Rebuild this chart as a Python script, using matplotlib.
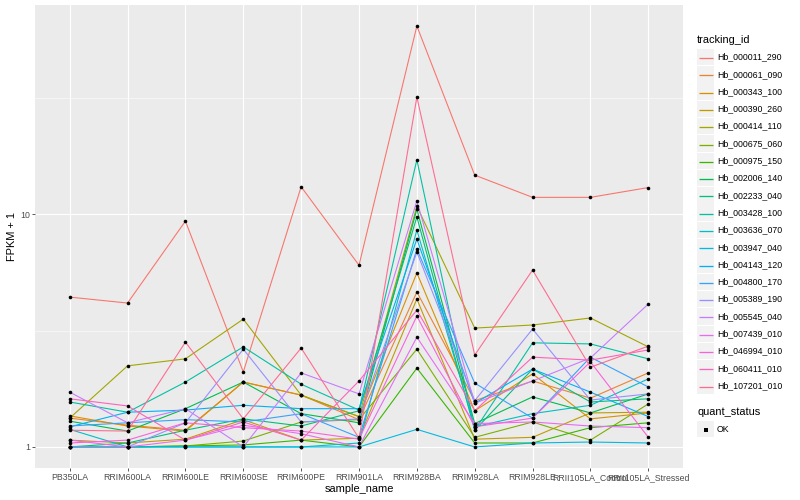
import numpy as np
import matplotlib.pyplot as plt
from matplotlib.patches import Rectangle

plt.rcParams['font.family'] = ['Liberation Sans', 'DejaVu Sans']

# sample order on the x axis
samples = ['PB350LA', 'RRIM600LA', 'RRIM600LE', 'RRIM600SE', 'RRIM600PE', 'RRIM901LA',
           'RRIM928BA', 'RRIM928LA', 'RRIM928LE', 'RRII105LA_Control', 'RRII105LA_Stressed']

genes = ['Hb_000011_290', 'Hb_000061_090', 'Hb_000343_100', 'Hb_000390_260', 'Hb_000414_110',
         'Hb_000675_060', 'Hb_000975_150', 'Hb_002006_140', 'Hb_002233_040', 'Hb_003428_100',
         'Hb_003636_070', 'Hb_003947_040', 'Hb_004143_120', 'Hb_004800_170', 'Hb_005389_190',
         'Hb_005545_040', 'Hb_007439_010', 'Hb_046994_010', 'Hb_060411_010', 'Hb_107201_010']

# FPKM + 1 per gene, one value per sample
hb_000011_290 = [4.40, 4.15, 9.33, 2.10, 13.1, 6.03, 64.2, 14.7, 11.8, 11.8, 13.0]
hb_000061_090 = [1.33, 1.24, 1.18, 1.90, 1.67, 1.31, 4.63, 1.58, 1.92, 1.62, 2.08]
hb_000343_100 = [1.36, 1.23, 1.17, 1.90, 1.67, 1.35, 5.59, 1.43, 2.06, 1.32, 1.40]
hb_000390_260 = [1.07, 1.04, 1.08, 1.31, 1.07, 1.09, 4.32, 1.08, 1.10, 1.40, 1.41]
hb_000414_110 = [1.33, 2.23, 2.39, 3.54, 1.67, 1.35, 10.8, 3.24, 3.34, 3.58, 2.69]
hb_000675_060 = [1.00, 1.00, 1.01, 1.06, 1.28, 1.31, 2.63, 1.10, 1.28, 1.07, 1.53]
hb_000975_150 = [1.00, 1.00, 1.01, 1.02, 1.07, 1.00, 2.18, 1.04, 1.04, 1.21, 1.27]
hb_002006_140 = [1.29, 1.17, 1.46, 1.90, 1.39, 1.27, 10.5, 1.26, 1.64, 1.40, 1.69]
hb_002233_040 = [1.00, 1.04, 1.18, 1.32, 1.23, 1.43, 9.72, 1.18, 2.16, 1.56, 1.61]
hb_003428_100 = [1.56, 1.41, 1.90, 2.69, 1.86, 1.44, 17.1, 1.18, 2.80, 2.77, 2.39]
hb_003636_070 = [1.19, 1.00, 1.00, 1.00, 1.00, 1.04, 8.54, 1.22, 1.39, 1.51, 1.96]
hb_003947_040 = [1.00, 1.00, 1.00, 1.00, 1.00, 1.00, 1.19, 1.00, 1.04, 1.05, 1.04]
hb_004143_120 = [1.22, 1.41, 1.44, 1.51, 1.46, 1.46, 7.81, 1.54, 2.16, 1.72, 1.35]
hb_004800_170 = [1.23, 1.27, 1.31, 1.28, 1.39, 1.10, 7.07, 1.88, 1.33, 2.43, 1.81]
hb_005389_190 = [1.00, 1.00, 1.27, 2.63, 1.28, 1.32, 6.87, 1.58, 3.21, 1.59, 1.69]
hb_005545_040 = [1.72, 1.27, 1.46, 1.00, 2.08, 1.69, 11.4, 1.54, 1.92, 2.41, 4.11]
hb_007439_010 = [1.07, 1.00, 1.07, 1.24, 1.14, 1.00, 2.96, 1.26, 1.28, 1.23, 1.21]
hb_046994_010 = [1.04, 1.07, 1.27, 1.21, 1.17, 1.08, 3.65, 1.22, 1.33, 2.32, 1.10]
hb_060411_010 = [1.61, 1.50, 1.07, 1.28, 1.07, 1.92, 3.87, 1.43, 2.43, 2.36, 2.61]
hb_107201_010 = [1.18, 1.17, 2.82, 1.32, 2.66, 1.09, 31.8, 2.48, 5.75, 2.20, 2.71]

series = [hb_000011_290, hb_000061_090, hb_000343_100, hb_000390_260, hb_000414_110,
          hb_000675_060, hb_000975_150, hb_002006_140, hb_002233_040, hb_003428_100,
          hb_003636_070, hb_003947_040, hb_004143_120, hb_004800_170, hb_005389_190,
          hb_005545_040, hb_007439_010, hb_046994_010, hb_060411_010, hb_107201_010]

# ggplot hue palette, 20 levels
colors = ['#F8766D', '#EA8331', '#D89000', '#C09B00', '#A3A500', '#7CAE00', '#39B600',
          '#00BB4E', '#00BF7D', '#00C1A3', '#00BFC4', '#00BAE0', '#00B0F6', '#35A2FF',
          '#9590FF', '#C77CFF', '#E76BF3', '#FA62DB', '#FF62BC', '#FF6C91']

W, H = 800, 500
fig = plt.figure(figsize=(W / 72, H / 72), dpi=72)
ax = fig.add_axes([35 / W, 1 - 468 / H, (683 - 35) / W, (468 - 5) / H])
ax.set_facecolor('#EBEBEB')
for s in ax.spines.values():
    s.set_visible(False)

x = np.arange(len(samples))
for vals, col in zip(series, colors):
    ax.plot(x, vals, color=col, lw=1.1, zorder=3)
for vals in series:
    ax.plot(x, vals, 'o', color='black', ms=3.6, mew=0, zorder=4)

ax.set_yscale('log')
lo = 0.0
hi = np.log10(max(max(v) for v in series))
pad = 0.05 * (hi - lo)
ax.set_ylim(10 ** (lo - pad), 10 ** (hi + pad))
ax.set_xlim(-0.6, len(samples) - 1 + 0.6)
ax.set_yticks([1, 10])
ax.set_yticklabels(['1', '10'])
ax.set_yticks([10 ** 0.5, 10 ** 1.5], minor=True)
ax.yaxis.set_minor_formatter(plt.NullFormatter())
ax.set_xticks(x)
ax.set_xticklabels(samples)

ax.grid(which='major', color='white', lw=1.1, zorder=0)
ax.grid(which='minor', axis='y', color='white', lw=0.55, zorder=0)
ax.set_axisbelow(True)
ax.tick_params(which='major', length=2.75, width=0.8, color='#333333',
               labelsize=8.8, labelcolor='#4D4D4D', pad=2)
ax.tick_params(which='minor', length=0)

ax.set_xlabel('sample_name', fontsize=11, labelpad=2)
ax.set_ylabel('FPKM + 1', fontsize=11, labelpad=3)

# legend drawn by hand, ggplot style
lg = fig.add_axes([0, 0, 1, 1], zorder=-1)
lg.set_xlim(0, W)
lg.set_ylim(H, 0)
lg.axis('off')
lg.text(697, 40, 'tracking_id', fontsize=11, va='center', ha='left')
step = 17.3
top = 57
for i, (g, col) in enumerate(zip(genes, colors)):
    cy = top + i * step
    ly = round(cy) + 0.5
    lg.add_patch(Rectangle((697, cy - step / 2 + 0.4), 17, step - 0.8, color='#F2F2F2', lw=0))
    lg.plot([698.5, 712.5], [ly, ly], color=col, lw=1.3, solid_capstyle='butt')
    lg.text(717, cy, g, fontsize=8.8, va='center', ha='left')

lg.text(697, 412, 'quant_status', fontsize=11, va='center', ha='left')
lg.add_patch(Rectangle((697, 429 - step / 2 + 0.4), 17, step - 0.8, color='#F2F2F2', lw=0))
lg.plot([705.5], [429.5], 's', color='black', ms=3.2, mew=0)
lg.text(717, 429, 'OK', fontsize=8.8, va='center', ha='left')

fig.savefig('out.png', dpi=72)
